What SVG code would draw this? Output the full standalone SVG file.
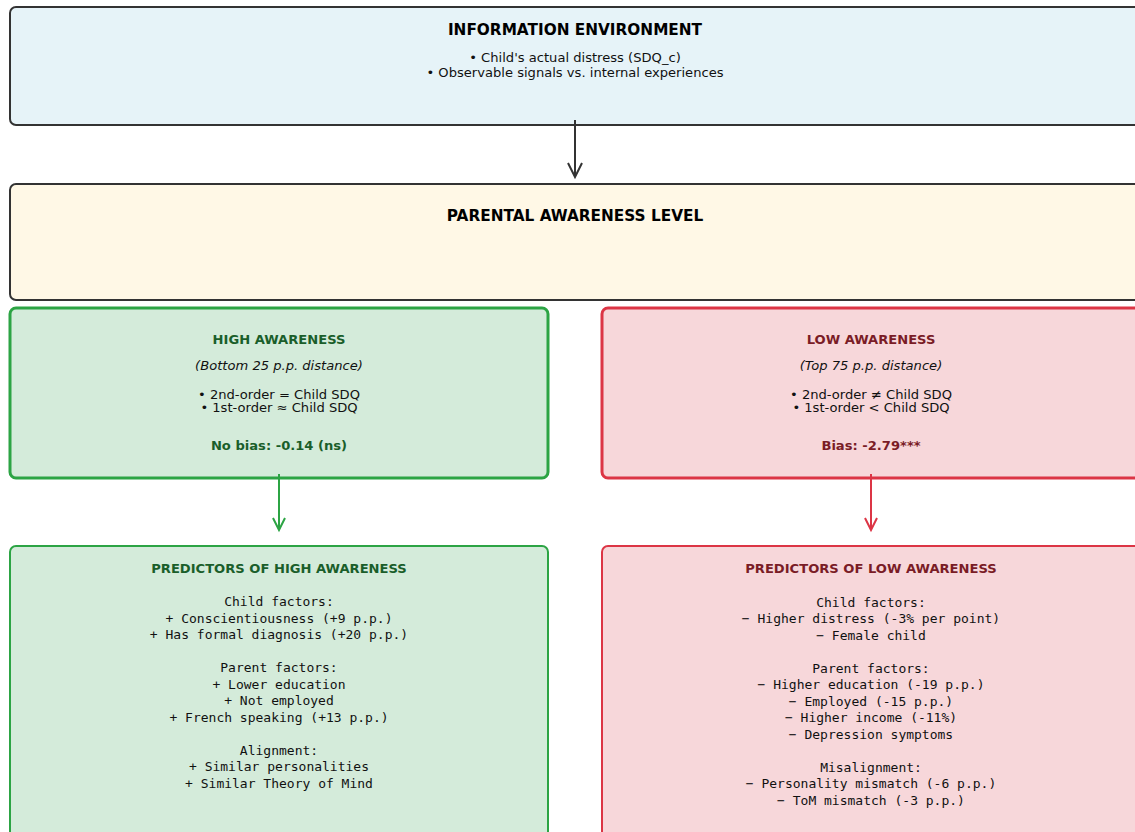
<svg xmlns="http://www.w3.org/2000/svg" width="1135" height="832" viewBox="0 0 1135 832">
<defs>
<style>
.t{font-family:"DejaVu Sans",sans-serif;text-anchor:middle}
.m{font-family:"DejaVu Sans Mono",monospace;text-anchor:middle;font-size:13px;fill:#111}
.h{font-weight:bold;font-size:15.3px;fill:#000}
.s{font-size:13.1px;fill:#111}
.b{font-weight:bold;font-size:13.1px}
.g{fill:#1a5e2a}
.r{fill:#7a1c26}
</style>
<marker id="ad" markerWidth="20" markerHeight="20" refX="17" refY="10" orient="auto" markerUnits="userSpaceOnUse" viewBox="0 0 20 20"><path d="M3,3 L17,10 L3,17" fill="none" stroke="#333" stroke-width="2"/></marker>
<marker id="ag" markerWidth="20" markerHeight="20" refX="17" refY="10" orient="auto" markerUnits="userSpaceOnUse" viewBox="0 0 20 20"><path d="M5,4 L17,10 L5,16" fill="none" stroke="#2ca444" stroke-width="2"/></marker>
<marker id="ar" markerWidth="20" markerHeight="20" refX="17" refY="10" orient="auto" markerUnits="userSpaceOnUse" viewBox="0 0 20 20"><path d="M5,4 L17,10 L5,16" fill="none" stroke="#dc3545" stroke-width="2"/></marker>
</defs>
<rect width="1135" height="832" fill="#fff"/>
<g id="info">
<rect x="10" y="7" width="1140" height="118" rx="6" fill="#e6f3f8" stroke="#333" stroke-width="2"/>
<text class="t h" x="575" y="35">INFORMATION ENVIRONMENT</text>
<text class="t s" x="575" y="62">• Child's actual distress (SDQ_c)</text>
<text class="t s" x="575" y="77">• Observable signals vs. internal experiences</text>
</g>
<g id="parental">
<rect x="10" y="184" width="1140" height="116" rx="6" fill="#fff8e6" stroke="#333" stroke-width="2"/>
<text class="t h" x="575" y="221">PARENTAL AWARENESS LEVEL</text>
</g>
<g id="high">
<rect x="10" y="308" width="538" height="170" rx="6" fill="#d4ebda" stroke="#2ca444" stroke-width="3"/>
<text class="t b g" x="279" y="344">HIGH AWARENESS</text>
<text class="t s" x="279" y="370" font-style="italic">(Bottom 25 p.p. distance)</text>
<text class="t s" x="279" y="399">• 2nd-order = Child SDQ</text>
<text class="t s" x="279" y="412">• 1st-order ≈ Child SDQ</text>
<text class="t b g" x="279" y="450">No bias: -0.14 (ns)</text>
</g>
<g id="low">
<rect x="602" y="308" width="548" height="170" rx="6" fill="#f7d7da" stroke="#dc3545" stroke-width="3"/>
<text class="t b r" x="871" y="344">LOW AWARENESS</text>
<text class="t s" x="871" y="370" font-style="italic">(Top 75 p.p. distance)</text>
<text class="t s" x="871" y="399">• 2nd-order ≠ Child SDQ</text>
<text class="t s" x="871" y="412">• 1st-order &lt; Child SDQ</text>
<text class="t b r" x="871" y="450">Bias: -2.79***</text>
</g>
<g id="predHigh">
<rect x="10" y="546" width="538" height="300" rx="6" fill="#d4ebda" stroke="#2ca444" stroke-width="2"/>
<text class="t b g" x="279" y="573">PREDICTORS OF HIGH AWARENESS</text>
<text class="m" x="279" y="606">Child factors:</text>
<text class="m" x="279" y="623">+ Conscientiousness (+9 p.p.)</text>
<text class="m" x="279" y="639">+ Has formal diagnosis (+20 p.p.)</text>
<text class="m" x="279" y="672">Parent factors:</text>
<text class="m" x="279" y="689">+ Lower education</text>
<text class="m" x="279" y="705">+ Not employed</text>
<text class="m" x="279" y="722">+ French speaking (+13 p.p.)</text>
<text class="m" x="279" y="755">Alignment:</text>
<text class="m" x="279" y="771">+ Similar personalities</text>
<text class="m" x="279" y="788">+ Similar Theory of Mind</text>
</g>
<g id="predLow">
<rect x="602" y="546" width="548" height="300" rx="6" fill="#f7d7da" stroke="#dc3545" stroke-width="2"/>
<text class="t b r" x="871" y="573">PREDICTORS OF LOW AWARENESS</text>
<text class="m" x="871" y="607">Child factors:</text>
<text class="m" x="871" y="623">− Higher distress (-3% per point)</text>
<text class="m" x="871" y="640">− Female child</text>
<text class="m" x="871" y="673">Parent factors:</text>
<text class="m" x="871" y="689">− Higher education (-19 p.p.)</text>
<text class="m" x="871" y="706">− Employed (-15 p.p.)</text>
<text class="m" x="871" y="722">− Higher income (-11%)</text>
<text class="m" x="871" y="739">− Depression symptoms</text>
<text class="m" x="871" y="772">Misalignment:</text>
<text class="m" x="871" y="788">− Personality mismatch (-6 p.p.)</text>
<text class="m" x="871" y="805">− ToM mismatch (-3 p.p.)</text>
</g>
<g id="connectors" fill="none" stroke-width="2">
<line x1="575" y1="120" x2="575" y2="177" stroke="#333" marker-end="url(#ad)"/>
<line x1="279" y1="474" x2="279" y2="530" stroke="#2ca444" marker-end="url(#ag)"/>
<line x1="871" y1="474" x2="871" y2="530" stroke="#dc3545" marker-end="url(#ar)"/>
</g>
</svg>
